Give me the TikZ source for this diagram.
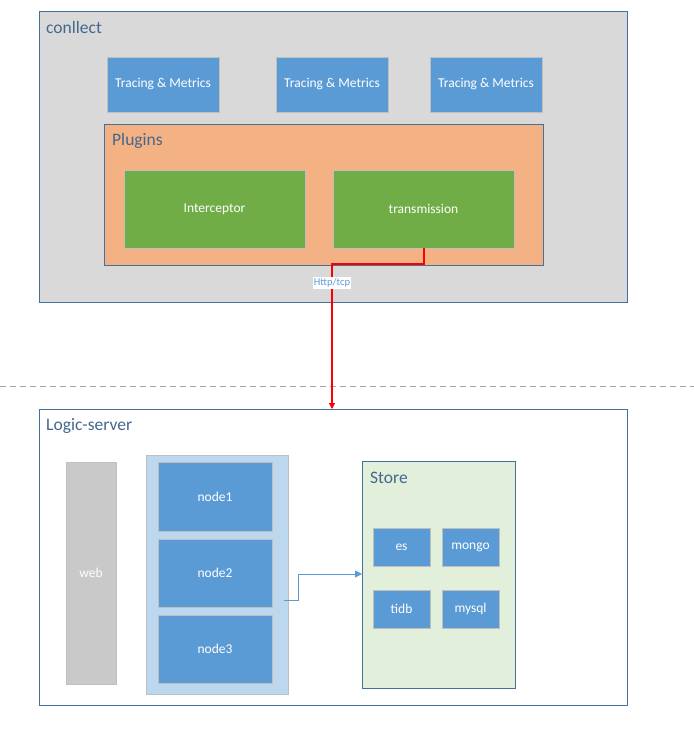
\documentclass[tikz,border=0pt]{standalone}
\usepackage{fontspec}
\setmainfont{Carlito}
\usetikzlibrary{arrows.meta}
\definecolor{frameblue}{HTML}{41719C}
\definecolor{titleblue}{HTML}{44678E}
\definecolor{panelgray}{HTML}{D9D9D9}
\definecolor{boxblue}{HTML}{5B9BD5}
\definecolor{plugorange}{HTML}{F4B183}
\definecolor{boxgreen}{HTML}{70AD47}
\definecolor{paleblue}{HTML}{BDD7EE}
\definecolor{palegreen}{HTML}{E2EFDA}
\definecolor{webgray}{HTML}{C9C9C9}
\definecolor{edgegray}{HTML}{BFBFBF}
\begin{document}
\begin{tikzpicture}[x=1pt,y=-1pt,
  frame/.style={draw=frameblue,line width=0.8pt},
  title/.style={anchor=west,text=titleblue,font=\fontsize{17.5}{20}\selectfont,inner sep=0pt},
  inner/.style={draw=edgegray,line width=0.6pt,text=white,font=\fontsize{13.5}{16}\selectfont},
  block/.style={inner,fill=boxblue},
  gblock/.style={inner,fill=boxgreen}]
\useasboundingbox (0,0) rectangle (694,740);

% collector panel
\draw[frame,fill=panelgray] (39,11) rectangle (627,302);
\node[title] (tcol) at (46,27) {conllect};
\draw[block] (107,57) rectangle (219,112) node[midway] (tm1) {Tracing \& Metrics};
\draw[block] (276,57) rectangle (388,112) node[midway] (tm2) {Tracing \& Metrics};
\draw[block] (430,57) rectangle (542,112) node[midway] (tm3) {Tracing \& Metrics};

% plugins
\draw[frame,fill=plugorange] (104,124) rectangle (543,265);
\node[title] (tplug) at (112,141) {Plugins};
\draw[gblock] (124,170) rectangle (305,248) node[midway] (icp) {Interceptor};
\draw[gblock] (333,170) rectangle (514,248) node[midway] (trans) {transmission};
\coordinate (transb) at (424,248);

% separator
\draw[draw=black!35,line width=0.8pt,dash pattern=on 6pt off 4pt] (0,386) -- (694,386);

% logic server panel
\draw[frame,fill=white] (39,409) rectangle (627,705);
\node[title] (tls) at (46,426) {Logic-server};
\coordinate (lstop) at (332,409);

\draw[inner,fill=webgray] (66,462) rectangle (116,684) node[midway] (web) {web};
\draw[draw=edgegray,line width=0.6pt,fill=paleblue] (146,455) rectangle (288,694);
\draw[block] (158,462) rectangle (272,531) node[midway] (n1) {node1};
\draw[block] (158,539) rectangle (272,607) node[midway] (n2) {node2};
\draw[block] (158,615) rectangle (272,683) node[midway] (n3) {node3};
\coordinate (nodesout) at (284,600);

% store
\draw[frame,fill=palegreen] (362,461) rectangle (515,688);
\node[title] (tstore) at (370,478) {Store};
\coordinate (storein) at (362,574);
\draw[block] (373,528) rectangle (430,566) node[midway] (es) {es};
\draw[block] (442,528) rectangle (499,566) node[midway] (mongo) {mongo};
\draw[block] (373,590) rectangle (430,628) node[midway] (tidb) {tidb};
\draw[block] (442,590) rectangle (499,628) node[midway] (mysql) {mysql};

% connectors
\draw[red,line width=1.1pt,-{Triangle[length=6pt,width=6pt]}]
  (transb) -- (424,264) -- (332,264) -- (lstop);
\node[fill=white,text=boxblue,inner sep=1.2pt,font=\fontsize{10.5}{12}\selectfont] (proto) at (332,283) {Http/tcp};
\draw[boxblue,line width=1pt,-{Triangle[length=7pt,width=7pt]}]
  (nodesout) -- (298,600) -- (298,574) -- (storein);
\end{tikzpicture}
\end{document}
